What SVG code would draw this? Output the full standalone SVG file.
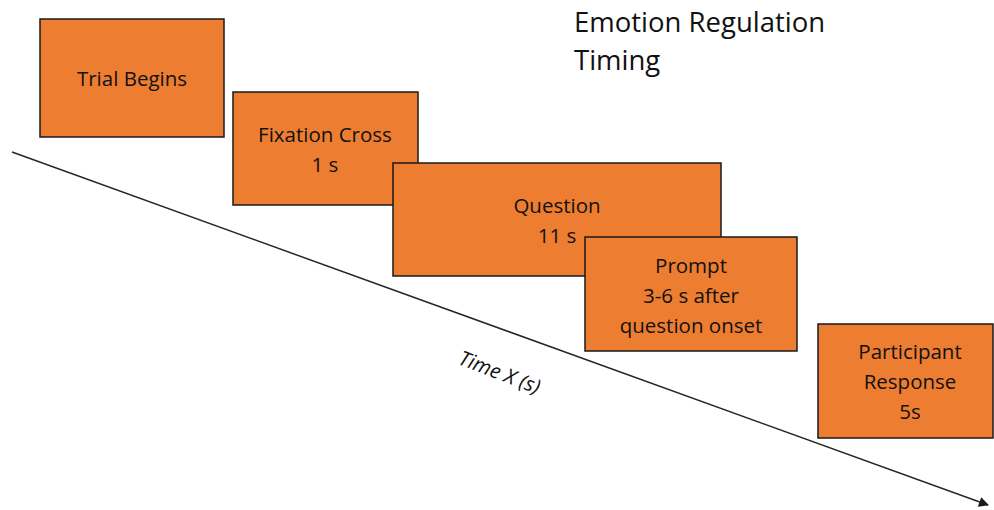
<svg xmlns="http://www.w3.org/2000/svg" width="994" height="510" viewBox="0 0 994 510">
<style>
.box{fill:#ED7D31;stroke:#1a1a1a;stroke-width:1.5}
.t{font-family:"Open Sans","Liberation Sans",sans-serif;font-size:20.5px;fill:#111;text-anchor:middle}
.title{font-family:"Open Sans","Liberation Sans",sans-serif;font-size:27.5px;fill:#111}
</style>
<defs>
<marker id="ah" viewBox="0 0 10 10" refX="9" refY="5" markerWidth="11" markerHeight="10" markerUnits="userSpaceOnUse" orient="auto">
<path d="M0,0 L10,5 L0,10 z" fill="#1a1a1a"/>
</marker>
</defs>
<rect width="994" height="510" fill="#fff"/>
<g id="connectors">
<line x1="12" y1="152" x2="988" y2="505" stroke="#262626" stroke-width="1.5" marker-end="url(#ah)"/>
</g>
<g id="title"><text class="title" x="574" y="32">Emotion Regulation</text><text class="title" x="574" y="70">Timing</text></g>
<g id="trial"><rect class="box" x="40" y="19" width="184" height="118"/><text class="t" x="132" y="86">Trial Begins</text></g>
<g id="fixation"><rect class="box" x="233" y="92" width="185" height="113"/><text class="t" x="325" y="142">Fixation Cross</text><text class="t" x="325" y="172">1 s</text></g>
<g id="question"><rect class="box" x="393" y="163" width="328" height="113"/><text class="t" x="557" y="213">Question</text><text class="t" x="557" y="243">11 s</text></g>
<g id="prompt"><rect class="box" x="585" y="237" width="212" height="114"/><text class="t" x="691" y="273">Prompt</text><text class="t" x="691" y="303">3-6 s after</text><text class="t" x="691" y="333">question onset</text></g>
<g id="response"><rect class="box" x="818" y="324" width="175" height="114"/><text class="t" x="910" y="359">Participant</text><text class="t" x="910" y="389">Response</text><text class="t" x="910" y="419">5s</text></g>
<g id="axis-label"><text class="t" font-style="italic" transform="translate(497,379) rotate(21)">Time X (s)</text></g>
</svg>
